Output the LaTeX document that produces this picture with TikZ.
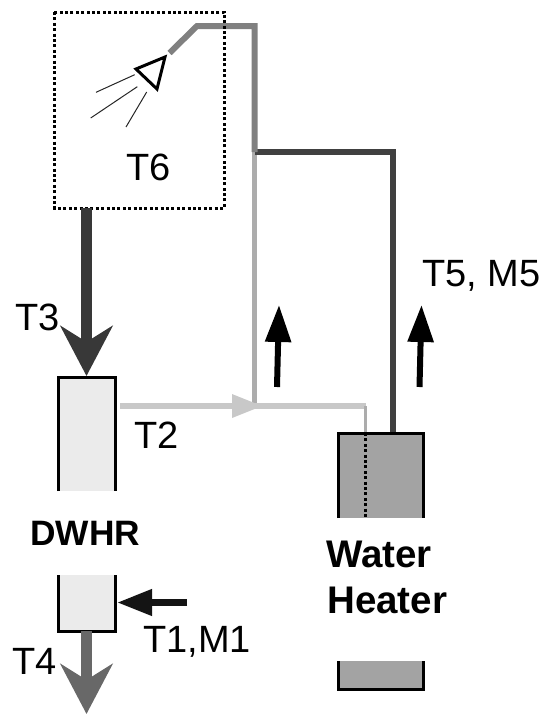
\documentclass[tikz,border=0pt]{standalone}
\usepackage{fontspec}
\setmainfont{Liberation Sans}
\usetikzlibrary{arrows.meta}
\tikzset{
  lbl/.style={anchor=base west,inner sep=0pt,font=\fontsize{38}{38}\selectfont},
  blbl/.style={anchor=base west,inner sep=0pt,font=\fontsize{#1}{#1}\selectfont\bfseries},
  block/.style={inner sep=0pt,outer sep=0pt,draw=none,line width=0pt},
  sides/.style={line width=3pt,draw=black,line cap=butt,line join=miter},
  dots/.style={line width=3pt,draw=black,dash pattern=on 3pt off 2.4pt},
  pipe/.style={line join=miter,line cap=butt},
  fatdown/.style={line width=11pt,-{Stealth[length=50pt,width=52pt,inset=16pt]}},
  blackup/.style={line width=6pt,draw=black,-{Triangle[length=37pt,width=25pt]}},
  spray/.style={line width=1pt,draw=black!85},
}
\begin{document}
\begin{tikzpicture}[x=1pt,y=-1pt]
\useasboundingbox (0,0) rectangle (545,715);
\definecolor{hotpipe}{HTML}{808080}
\definecolor{darkpipe}{HTML}{404040}
\definecolor{lightv}{HTML}{ACACAC}
\definecolor{lighth}{HTML}{C8C8C8}
\definecolor{hx}{HTML}{EBEBEB}
\definecolor{tank}{HTML}{A3A3A3}
\definecolor{arrowdark}{HTML}{383838}
\definecolor{arrowmid}{HTML}{686868}

% Blocks
\node[block,fill=hx,minimum width=57pt,minimum height=114pt] (dwhrA) at (87,434) {};
\node[block,fill=hx,minimum width=57pt,minimum height=56pt] (dwhrB) at (87,603) {};
\node[block,fill=tank,minimum width=85pt,minimum height=85pt] (heatA) at (380.5,475.5) {};
\node[block,fill=tank,minimum width=85pt,minimum height=28pt] (heatB) at (380.5,675) {};
\node[block,minimum width=170pt,minimum height=196pt] (room) at (139.25,110) {};

% Junction and free-end coordinates
\coordinate (hotstart) at (169.5,53);
\coordinate (hotbend) at (197,26);
\coordinate (hotcorner) at (254.5,26);
\coordinate (mix) at (254.5,152);
\coordinate (darkcorner) at (393,152);
\coordinate (darkend) at (393,433);
\coordinate (tee) at (254.5,406);
\coordinate (t2start) at (120,406);
\coordinate (t2tip) at (262,406);
\coordinate (t2corner) at (365.5,406);
\coordinate (t2end) at (365.5,433);
\coordinate (dotend) at (365.5,518);
\coordinate (roomout) at (86.5,208);
\coordinate (t3tip) at (86.5,376);
\coordinate (t4start) at (86.5,631);
\coordinate (t4tip) at (86.5,714);
\coordinate (t1start) at (187,602.5);
\coordinate (t1tip) at (117,602.5);
\coordinate (upAa) at (277,387);
\coordinate (upAb) at (279,305);
\coordinate (upBa) at (419.5,387);
\coordinate (upBb) at (421.5,305);

% Pipes
\draw[pipe,line width=5.5pt,draw=lightv] (mix) -- (tee);
\draw[pipe,line width=5.5pt,draw=lighth] (t2start) -- (t2corner);
\fill[lighth] (232,394) -- (t2tip) -- (232,418) -- cycle;
\draw[pipe,line width=3pt,draw=lightv] (t2corner) -- (t2end);
\draw[pipe,line width=6pt,draw=darkpipe] (mix) -- (darkcorner) -- (darkend);
\draw[pipe,line width=6pt,draw=hotpipe] (hotstart) -- (hotbend) -- (hotcorner) -- (mix);

% Block outlines
\draw[sides] (dwhrA.south west) -- (dwhrA.north west) -- (dwhrA.north east) -- (dwhrA.south east);
\draw[sides] (dwhrB.north west) -- (dwhrB.south west) -- (dwhrB.south east) -- (dwhrB.north east);
\draw[sides] (heatA.south west) -- (heatA.north west) -- (heatA.north east) -- (heatA.south east);
\draw[sides] (heatB.north west) -- (heatB.south west) -- (heatB.south east) -- (heatB.north east);
\draw[dots] (t2end) -- (dotend);
\draw[dots] (room.north west) rectangle (room.south east);

% Shower head
\draw[line width=3pt,line join=miter] (136,69) -- (165,57) -- (157,89) -- cycle;
\draw[spray] (134.7,74.7) -- (96,92.3);
\draw[spray] (137.3,86.7) -- (90.7,118);
\draw[spray] (146.7,92) -- (126,127);

% Flow arrows
\draw[fatdown,draw=arrowdark,fill=arrowdark] (roomout) -- (t3tip);
\draw[fatdown,draw=arrowmid,fill=arrowmid] (t4start) -- (t4tip);
\draw[line width=7pt,draw=black!92,-{Triangle[length=35pt,width=25pt]}] (t1start) -- (t1tip);
\draw[blackup] (upAa) -- (upAb);
\draw[blackup] (upBa) -- (upBb);

% Labels
\node[lbl] (t6) at (126,180) {T6};
\node[lbl] (t3) at (15,330) {T3};
\node[lbl] (t2) at (134,448) {T2};
\node[lbl] (t4) at (12,674) {T4};
\node[lbl] (t1) at (143,652) {T1,M1};
\node[lbl] (t5) at (422,286) {T5, M5};
\node[blbl=35.3] (dwhr) at (30,545) {DWHR};
\node[blbl=38.5] (water) at (326,567) {Water};
\node[blbl=38.5] (heater) at (327,613) {Heater};
\end{tikzpicture}
\end{document}
